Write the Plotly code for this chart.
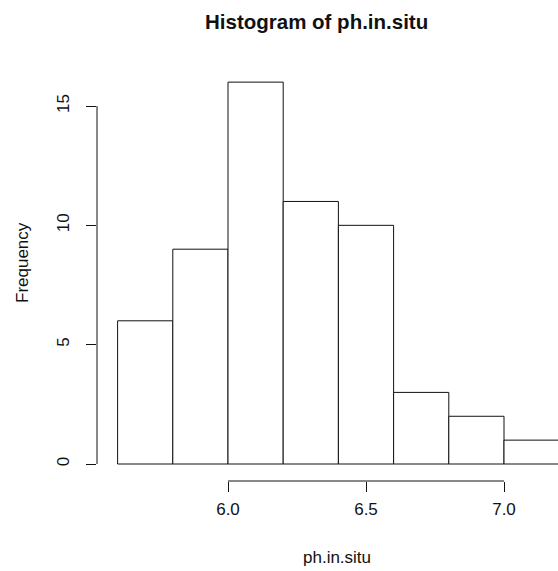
import plotly.graph_objects as go

# Data
bin_edges = [5.6, 5.8, 6.0, 6.2, 6.4, 6.6, 6.8, 7.0, 7.2]
counts = [6, 9, 16, 11, 10, 3, 2, 1]
x_ticks = [6.0, 6.5, 7.0]
x_tick_labels = ["6.0", "6.5", "7.0"]
y_ticks = [0, 5, 10, 15]
y_tick_labels = ["0", "5", "10", "15"]

centers = [(a + b) / 2 for a, b in zip(bin_edges[:-1], bin_edges[1:])]
widths = [b - a for a, b in zip(bin_edges[:-1], bin_edges[1:])]

W, H = 558, 571
ml, mr, mt = 97, 0, 48
mb = H - 481
PW, PH = W - ml - mr, H - mt - mb


def px(xr):  # reference pixel x -> paper x
    return (xr - ml) / PW


def py(yr):  # reference pixel y -> paper y
    return (H - mb - yr) / PH


fig = go.Figure()
fig.add_trace(go.Bar(
    x=centers, y=counts, width=widths,
    marker=dict(color="white", line=dict(color="#111", width=1)),
    hoverinfo="x+y",
))

font_family = "Liberation Sans, Arial, sans-serif"

fig.update_layout(
    width=W, height=H,
    margin=dict(l=ml, r=mr, t=mt, b=mb, pad=0),
    plot_bgcolor="white", paper_bgcolor="white",
    showlegend=False,
    font=dict(family=font_family, size=17, color="#111"),
    xaxis=dict(
        range=[5.52536, 7.19565], showgrid=False, zeroline=False, showline=False,
        tickmode="array", tickvals=x_ticks, ticktext=x_tick_labels,
        ticks="outside", ticklen=10, tickwidth=1, tickcolor="#111",
        ticklabelstandoff=3,
        tickfont=dict(size=17, family=font_family, color="#111"),
    ),
    yaxis=dict(
        range=[-0.7123, 17.43], showgrid=False, zeroline=False, showline=False,
        tickmode="array", tickvals=y_ticks, ticktext=y_tick_labels,
        ticks="outside", ticklen=10, tickwidth=1, tickcolor="#111",
        tickangle=-90, ticklabelstandoff=10,
        tickfont=dict(size=17, family=font_family, color="#111"),
    ),
    shapes=[
        dict(type="line", xref="paper", yref="y", x0=0, x1=0,
             y0=y_ticks[0], y1=y_ticks[-1], line=dict(color="#111", width=1)),
        dict(type="line", xref="x", yref="paper", x0=x_ticks[0], x1=x_ticks[-1],
             y0=0, y1=0, line=dict(color="#111", width=1)),
    ],
    annotations=[
        dict(text="<b>Histogram of ph.in.situ</b>", xref="paper", yref="paper",
             x=px(316), y=py(22),
             xanchor="center", yanchor="middle", showarrow=False,
             font=dict(size=20.5, family=font_family, color="#111")),
        dict(text="ph.in.situ", xref="paper", yref="paper",
             x=px(337), y=py(557),
             xanchor="center", yanchor="middle", showarrow=False,
             font=dict(size=17, family=font_family, color="#111")),
        dict(text="Frequency", xref="paper", yref="paper",
             x=px(22), y=py(263),
             xanchor="center", yanchor="middle", showarrow=False, textangle=-90,
             font=dict(size=17, family=font_family, color="#111")),
    ],
)

fig.write_html(
    "out.html",
    config={"displayModeBar": False},
    post_script="document.body.style.margin='0';document.body.style.overflow='hidden';",
)
